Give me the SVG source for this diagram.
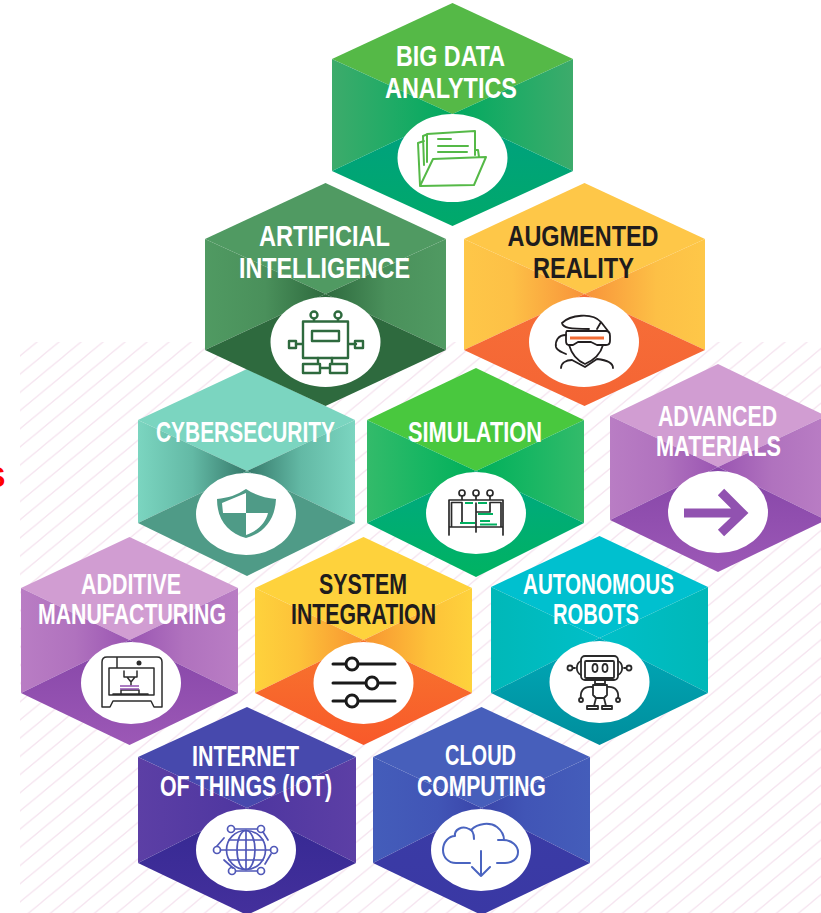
<svg xmlns="http://www.w3.org/2000/svg" width="821" height="913" viewBox="0 0 821 913">
<style>
text{font-family:"Liberation Sans",Arial,sans-serif;font-weight:700;font-size:30px}
.w{fill:#fff}.k{fill:#1f1c1d}
.c{fill:#fff}
.i{fill:none;stroke-linecap:round;stroke-linejoin:round}
</style>
<defs>
<pattern id="hatch" patternUnits="userSpaceOnUse" x="20" y="337.8" width="22" height="18.2">
<path d="M-2,19.85L24,-1.65M-2,1.65L2,-1.65M20,19.85L24,16.55" stroke="#f6e5f0" stroke-width="1.3" fill="none"/>
</pattern>
<linearGradient id="s1"><stop offset="0" stop-color="#3dab6b"/><stop offset=".5" stop-color="#1fab66"/><stop offset="1" stop-color="#00a95f"/></linearGradient>
<linearGradient id="s1r" href="#s1" x1="1" x2="0"/>
<linearGradient id="s2"><stop offset="0" stop-color="#509a62"/><stop offset=".5" stop-color="#4a905b"/><stop offset="1" stop-color="#2e6a3e"/></linearGradient>
<linearGradient id="s2r" href="#s2" x1="1" x2="0"/>
<linearGradient id="s3"><stop offset="0" stop-color="#fec748"/><stop offset=".4" stop-color="#fdc046"/><stop offset="1" stop-color="#f8933a"/></linearGradient>
<linearGradient id="s3r" href="#s3" x1="1" x2="0"/>
<linearGradient id="s4"><stop offset="0" stop-color="#7bd5c0"/><stop offset=".5" stop-color="#63b9a5"/><stop offset="1" stop-color="#35796a"/></linearGradient>
<linearGradient id="s4r" href="#s4" x1="1" x2="0"/>
<linearGradient id="s5"><stop offset="0" stop-color="#33bb6a"/><stop offset=".5" stop-color="#18b663"/><stop offset="1" stop-color="#00b05a"/></linearGradient>
<linearGradient id="s5r" href="#s5" x1="1" x2="0"/>
<linearGradient id="s6"><stop offset="0" stop-color="#b97dc4"/><stop offset=".5" stop-color="#b072be"/><stop offset="1" stop-color="#9a55b2"/></linearGradient>
<linearGradient id="s6r" href="#s6" x1="1" x2="0"/>
<linearGradient id="s7"><stop offset="0" stop-color="#fed23c"/><stop offset=".4" stop-color="#fdc239"/><stop offset="1" stop-color="#f89431"/></linearGradient>
<linearGradient id="s7r" href="#s7" x1="1" x2="0"/>
<linearGradient id="s8"><stop offset="0" stop-color="#00b8b8"/><stop offset="1" stop-color="#00bfc8"/></linearGradient>
<linearGradient id="s8r" href="#s8" x1="1" x2="0"/>
<linearGradient id="s9"><stop offset="0" stop-color="#5c3fa5"/><stop offset="1" stop-color="#4e36a0"/></linearGradient>
<linearGradient id="s9r" href="#s9" x1="1" x2="0"/>
<linearGradient id="s10"><stop offset="0" stop-color="#445dba"/><stop offset=".6" stop-color="#4155b6"/><stop offset="1" stop-color="#3a45aa"/></linearGradient>
<linearGradient id="s10r" href="#s10" x1="1" x2="0"/>
<linearGradient id="b1" x2="0" y2="1"><stop offset="0" stop-color="#00a081"/><stop offset="1" stop-color="#00a96a"/></linearGradient>
<linearGradient id="b3" x2="0" y2="1"><stop offset="0" stop-color="#f66f38"/><stop offset="1" stop-color="#f56434"/></linearGradient>
<linearGradient id="b5" x2="0" y2="1"><stop offset="0" stop-color="#00a882"/><stop offset="1" stop-color="#00b362"/></linearGradient>
<linearGradient id="b6" x2="0" y2="1"><stop offset="0" stop-color="#8646a8"/><stop offset="1" stop-color="#9c58b6"/></linearGradient>
<linearGradient id="b7" x2="0" y2="1"><stop offset="0" stop-color="#f7762e"/><stop offset="1" stop-color="#f8592a"/></linearGradient>
<linearGradient id="b8" x2="0" y2="1"><stop offset="0" stop-color="#00a9b8"/><stop offset="1" stop-color="#008e9c"/></linearGradient>
<linearGradient id="b9" x2="0" y2="1"><stop offset="0" stop-color="#342892"/><stop offset="1" stop-color="#44309c"/></linearGradient>
<linearGradient id="b10" x2="0" y2="1"><stop offset="0" stop-color="#3a3ca6"/><stop offset="1" stop-color="#3a38a4"/></linearGradient>
</defs>
<rect width="821" height="913" fill="#fff"/>
<rect x="20" y="342" width="801" height="571" fill="url(#hatch)"/>
<text x="-14" y="487" style="font-size:29px;fill:#f00">S</text>

<g id="cybersecurity">
<polygon fill="#7bd5c0" points="138,420 247,369 355,420 247,471"/>
<polygon fill="url(#s4)" points="138,420 247,471 138,523"/>
<polygon fill="url(#s4r)" points="355,420 247,471 355,523"/>
<polygon fill="#4f9b87" points="138,523 247,471 355,523 247,576"/>
<ellipse class="c" cx="246" cy="514" rx="50" ry="41"/>
<path fill="#4f9b87" d="M246,489C237,495 228,498 217,499C217,520 228,533 246,538C264,533 275,520 276,499C265,498 255,495 246,489Z"/>
<path fill="#fff" d="M222,503L246,493V513H223ZM246,513H268C266,522 258,531 246,535Z"/>
<text class="w" x="156" y="441.500" textLength="179" lengthAdjust="spacingAndGlyphs">CYBERSECURITY</text>
</g>

<g id="simulation">
<polygon fill="#49c83e" points="367,420 476,368 584,420 476,471"/>
<polygon fill="url(#s5)" points="367,420 476,471 367,523"/>
<polygon fill="url(#s5r)" points="584,420 476,471 584,523"/>
<polygon fill="url(#b5)" points="367,523 476,471 584,523 476,577"/>
<ellipse class="c" cx="476" cy="513" rx="50" ry="41"/>
<g class="i" stroke="#2a2a2a" stroke-width="1.700">
<circle cx="462" cy="493" r="3"/><circle cx="476" cy="493" r="3"/><circle cx="490" cy="493" r="3"/>
<path d="M462,496V500M476,496V500M490,496V500M449,535V500H503V535M451.500,527V502.500H462V522M501,527V502.500H490V512H476V503M450,527H503M476,527V532M476,512V527"/>
</g>
<path fill="none" stroke="#00b060" stroke-width="2" d="M465,503H473M478,503H487M478,514H493M460,523H475M480,521H490M480,524.500H497"/>
<text class="w" x="408" y="441.500" textLength="134" lengthAdjust="spacingAndGlyphs">SIMULATION</text>
</g>

<g id="advanced-materials">
<polygon fill="#d19dd2" points="610,416 718,364 826,416 718,467"/>
<polygon fill="url(#s6)" points="610,416 718,467 610,520"/>
<polygon fill="url(#s6r)" points="826,416 718,467 826,520"/>
<polygon fill="url(#b6)" points="610,520 718,467 826,520 718,572"/>
<ellipse class="c" cx="718" cy="512" rx="50" ry="41"/>
<path fill="none" stroke="#9152b0" stroke-width="9" d="M684,513H741M721,492L742,513L721,533"/>
<text class="w" x="717.500" y="426" text-anchor="middle" textLength="119" lengthAdjust="spacingAndGlyphs">ADVANCED</text>
<text class="w" x="718.500" y="456" text-anchor="middle" textLength="125" lengthAdjust="spacingAndGlyphs">MATERIALS</text>
</g>

<g id="big-data-analytics">
<polygon fill="#55b947" points="332,59 452.500,3 573,59 452.500,114"/>
<polygon fill="url(#s1)" points="332,59 452.500,114 332,171"/>
<polygon fill="url(#s1r)" points="573,59 452.500,114 573,171"/>
<polygon fill="url(#b1)" points="332,171 452.500,114 573,171 452.500,226"/>
<ellipse class="c" cx="452.500" cy="158" rx="55" ry="44"/>
<g class="i" stroke="#55b947" stroke-width="2">
<path d="M420,185L418,143L424,141M424,165L423,136L428,134M427,162V134L475,131V155M475,150H478L479,157M438,139H451M438,146H468M438,152H467"/>
<path fill="#fff" d="M420,186L433,159L486,157L474,185Z"/>
</g>
<text class="w" x="396" y="66" textLength="109" lengthAdjust="spacingAndGlyphs">BIG DATA</text>
<text class="w" x="385" y="98" textLength="132" lengthAdjust="spacingAndGlyphs">ANALYTICS</text>
</g>

<g id="artificial-intelligence">
<polygon fill="#509a62" points="205,239 325.500,183 446,239 325.500,294"/>
<polygon fill="url(#s2)" points="205,239 325.500,294 205,350"/>
<polygon fill="url(#s2r)" points="446,239 325.500,294 446,350"/>
<polygon fill="#2e6a3e" points="205,350 325.500,294 446,350 325.500,406"/>
<ellipse class="c" cx="325.500" cy="342" rx="55" ry="45"/>
<g class="i" stroke="#2e6a3e" stroke-width="2.400">
<circle cx="314" cy="315" r="3.500"/><circle cx="338" cy="315" r="3.500"/>
<path d="M314,319V321.500M338,319V321.500M303,321.500H348V358H303ZM312,331H339V341H312ZM303,344H296M348,344H356"/>
<path d="M289,341H296V348H289ZM355,341H363V348H355ZM318,358V363M332,358V363M303,364H320V373H303ZM330,364H347V373H330ZM320,368H330"/>
</g>
<text class="w" x="259" y="245.500" textLength="131" lengthAdjust="spacingAndGlyphs">ARTIFICIAL</text>
<text class="w" x="239" y="277.500" textLength="171" lengthAdjust="spacingAndGlyphs">INTELLIGENCE</text>
</g>

<g id="augmented-reality">
<polygon fill="#fec748" points="464,239 584.500,183 705,239 584.500,294"/>
<polygon fill="url(#s3)" points="464,239 584.500,294 464,350"/>
<polygon fill="url(#s3r)" points="705,239 584.500,294 705,350"/>
<polygon fill="url(#b3)" points="464,350 584.500,294 705,350 584.500,406"/>
<ellipse class="c" cx="584" cy="342" rx="55" ry="45"/>
<g class="i" stroke="#231f20" stroke-width="1.800">
<path d="M562,323C570,315 592,312 601,322L608,331M562,323C563,328 570,329 589,329M597,329L601,322M567,331H606C609,331 610,333 610,336V341C610,344 608,345 606,345H597L591,342H578L573,345H569C567,345 566,343 566,341V335C566,332 566,331 567,331Z"/>
<path d="M566,335C558,335 555,341 556,347C557,351 562,352 566,354M569,345C572,355 578,361 585,364C592,361 600,356 603,345"/>
<path d="M561,368C561,363 566,360 572,360L585,367L597,359C606,360 613,362 613,368"/>
</g>
<path stroke="#f26c35" stroke-width="3" fill="none" d="M570,338H604"/>
<text class="k" x="507.500" y="245.500" textLength="151" lengthAdjust="spacingAndGlyphs">AUGMENTED</text>
<text class="k" x="533" y="277.500" textLength="101" lengthAdjust="spacingAndGlyphs">REALITY</text>
</g>

<g id="additive-manufacturing">
<polygon fill="#d19dd2" points="21,588 129.500,537 238,588 129.500,640"/>
<polygon fill="url(#s6)" points="21,588 129.500,640 21,693"/>
<polygon fill="url(#s6r)" points="238,588 129.500,640 238,693"/>
<polygon fill="url(#b6)" points="21,693 129.500,640 238,693 129.500,745"/>
<ellipse class="c" cx="131" cy="683" rx="50" ry="41"/>
<g class="i" stroke="#2c2c2c" stroke-width="1.500">
<path d="M102,662Q102,657 107,657H157Q162,657 162,662V707H154L151,701H113L110,707H102ZM109,668H154V695H109ZM117,657V668M124,671V677H137V671M127,677L131,682L135,677M131,682V685M113,694H148M121,694V690H139V694"/>
</g>
<circle cx="139" cy="663" r="2.500" fill="#2c2c2c"/>
<path stroke="#9152b0" stroke-width="1.500" fill="none" d="M120,686H139M120,689H139"/>
<text class="w" x="81" y="593.500" textLength="100" lengthAdjust="spacingAndGlyphs">ADDITIVE</text>
<text class="w" x="38" y="624" textLength="188" lengthAdjust="spacingAndGlyphs">MANUFACTURING</text>
</g>

<g id="system-integration">
<polygon fill="#fed23c" points="255,588 363.500,537 472,588 363.500,640"/>
<polygon fill="url(#s7)" points="255,588 363.500,640 255,693"/>
<polygon fill="url(#s7r)" points="472,588 363.500,640 472,693"/>
<polygon fill="url(#b7)" points="255,693 363.500,640 472,693 363.500,745"/>
<ellipse class="c" cx="363.500" cy="683" rx="50" ry="41"/>
<g stroke="#1a1a1a" stroke-width="3" stroke-linecap="round" fill="#fff">
<path d="M333,664H395M333,683H395M333,701H395"/>
<circle cx="352" cy="664" r="6"/><circle cx="372" cy="683" r="6"/><circle cx="352" cy="701" r="6"/>
</g>
<text class="k" x="319" y="593.500" textLength="88" lengthAdjust="spacingAndGlyphs">SYSTEM</text>
<text class="k" x="291" y="624" textLength="145" lengthAdjust="spacingAndGlyphs">INTEGRATION</text>
</g>

<g id="autonomous-robots">
<polygon fill="#00c0cf" points="491,587 599.500,536 708,587 599.500,638"/>
<polygon fill="url(#s8)" points="491,587 599.500,638 491,693"/>
<polygon fill="url(#s8r)" points="708,587 599.500,638 708,693"/>
<polygon fill="url(#b8)" points="491,693 599.500,638 708,693 599.500,745"/>
<ellipse class="c" cx="599.500" cy="682" rx="50" ry="41"/>
<g class="i" stroke="#2a2a2a" stroke-width="1.800">
<rect x="581" y="656" width="37" height="24" rx="4"/><rect x="585" y="661" width="29" height="17" rx="1"/>
<ellipse cx="595" cy="668" rx="2.500" ry="4"/><ellipse cx="605" cy="668" rx="2.500" ry="4"/>
<path d="M581,661C576,663 575,672 581,675M618,661C623,663 624,672 618,675M575,668H573M624,668H626"/>
<circle cx="570" cy="668" r="2.500"/><circle cx="629" cy="668" r="2.500"/>
<path d="M595,680V684H605V680M593,685H607V695L604,698H596L593,695ZM592,687C583,686 580,692 581,698M607,687C616,686 619,692 618,698M596,698L594,706M604,698L606,706M587,709V706H598V709ZM602,709V706H612V709Z"/>
<circle cx="581" cy="700" r="2"/><circle cx="618" cy="700" r="2"/>
</g>
<text class="w" x="523" y="593.500" textLength="151" lengthAdjust="spacingAndGlyphs">AUTONOMOUS</text>
<text class="w" x="553" y="624" textLength="86" lengthAdjust="spacingAndGlyphs">ROBOTS</text>
</g>

<g id="internet-of-things">
<polygon fill="#4749ad" points="138,757 247,707 356,757 247,808"/>
<polygon fill="url(#s9)" points="138,757 247,808 138,863"/>
<polygon fill="url(#s9r)" points="356,757 247,808 356,863"/>
<polygon fill="url(#b9)" points="138,863 247,808 356,863 247,915"/>
<ellipse class="c" cx="246" cy="850" rx="50" ry="41"/>
<g class="i" stroke="#5058b8" stroke-width="1.700">
<circle cx="246" cy="850" r="19.500"/><ellipse cx="246" cy="850" rx="9" ry="19.500"/>
<path d="M246,830.500V869.500M226.500,850H265.500M229,840H263M229,860H263"/>
<circle cx="231" cy="829" r="3.500"/><circle cx="261" cy="829" r="3.500"/><circle cx="217" cy="850" r="3.500"/><circle cx="274" cy="850" r="3.500"/><circle cx="232" cy="871" r="3.500"/><circle cx="261" cy="871" r="3.500"/>
<path d="M235,829H257M236,871H257M220.500,850H226M266,850H270.500M263,832L268,840M271,854L265,864M224,838L217,846M224,860L233,868"/>
</g>
<text class="w" x="192" y="766" textLength="107" lengthAdjust="spacingAndGlyphs">INTERNET</text>
<text class="w" x="160" y="796" textLength="172" lengthAdjust="spacingAndGlyphs">OF THINGS (IOT)</text>
</g>

<g id="cloud-computing">
<polygon fill="#475fbb" points="373,757 481.500,707 590,757 481.500,808"/>
<polygon fill="url(#s10)" points="373,757 481.500,808 373,863"/>
<polygon fill="url(#s10r)" points="590,757 481.500,808 590,863"/>
<polygon fill="url(#b10)" points="373,863 481.500,808 590,863 481.500,915"/>
<ellipse class="c" cx="481" cy="850" rx="50" ry="41"/>
<g class="i" stroke="#4a64c0" stroke-width="2">
<path d="M470,863H456C448,863 443,857 443,850C443,842 449,836 455,836C454,830 462,825 469,829C473,830 474,834 474,839"/>
<path d="M471,830C478,823 490,822 497,827C502,831 504,836 504,840"/>
<path d="M498,840H503C512,840 518,846 518,852C518,859 512,863 505,863H497M481,851V876M472,867L481,876L490,867"/>
</g>
<text class="w" x="445" y="765" textLength="71" lengthAdjust="spacingAndGlyphs">CLOUD</text>
<text class="w" x="417" y="796" textLength="129" lengthAdjust="spacingAndGlyphs">COMPUTING</text>
</g>
</svg>
